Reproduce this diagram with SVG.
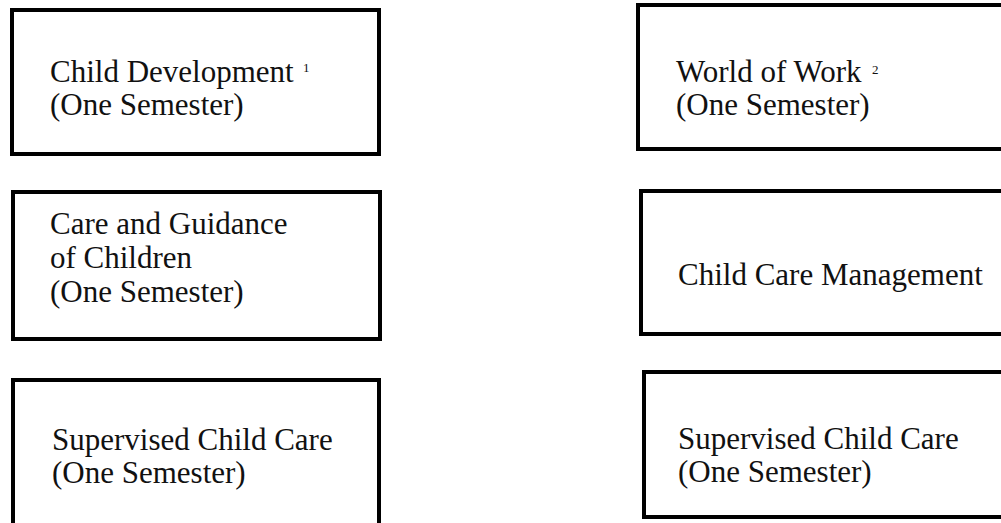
<svg xmlns="http://www.w3.org/2000/svg" width="1001" height="523" viewBox="0 0 1001 523">
  <style>
    .box { fill: #ffffff; stroke: #000000; stroke-width: 4; }
    .lbl { font-family: "Liberation Serif", "Times New Roman", serif; font-size: 31px; fill: #111111; }
    .sup { font-family: "Liberation Serif", "Times New Roman", serif; font-size: 13px; fill: #111111; }
  </style>
  <rect width="1001" height="523" fill="#ffffff"/>

  <!-- left column -->
  <g id="child-development">
    <rect class="box" x="12" y="10" width="367" height="144"/>
    <text class="lbl" x="50" y="82">Child Development</text>
    <text class="sup" x="303" y="72">1</text>
    <text class="lbl" x="50" y="115">(One Semester)</text>
  </g>

  <g id="care-guidance">
    <rect class="box" x="13" y="192" width="367" height="147"/>
    <text class="lbl" x="50" y="234">Care and Guidance</text>
    <text class="lbl" x="50" y="268">of Children</text>
    <text class="lbl" x="50" y="302">(One Semester)</text>
  </g>

  <g id="supervised-care-left">
    <rect class="box" x="13" y="380" width="366" height="160"/>
    <text class="lbl" x="52" y="450">Supervised Child Care</text>
    <text class="lbl" x="52" y="483">(One Semester)</text>
  </g>

  <!-- right column: boxes run off the right edge -->
  <g id="world-of-work">
    <rect class="box" x="638" y="5" width="380" height="144"/>
    <text class="lbl" x="676" y="82">World of Work</text>
    <text class="sup" x="872" y="74">2</text>
    <text class="lbl" x="676" y="115">(One Semester)</text>
  </g>

  <g id="child-care-management">
    <rect class="box" x="641" y="191" width="380" height="143"/>
    <text class="lbl" x="678" y="285">Child Care Management</text>
  </g>

  <g id="supervised-care-right">
    <rect class="box" x="644" y="372" width="380" height="145"/>
    <text class="lbl" x="678" y="449">Supervised Child Care</text>
    <text class="lbl" x="678" y="482">(One Semester)</text>
  </g>

  <g id="connectors"></g>
</svg>
